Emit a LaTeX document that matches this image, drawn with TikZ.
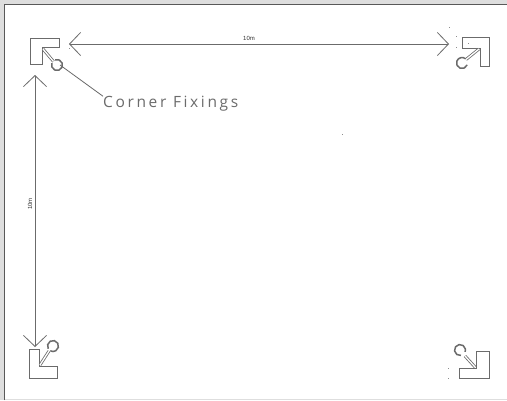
\documentclass[tikz,border=0pt]{standalone}
\usepackage{fontspec}
\setsansfont[LetterSpace=17]{Open Sans}
\newfontfamily\dimfont{Liberation Sans}
\usetikzlibrary{arrows.meta}
\definecolor{linegray}{gray}{0.42}
\definecolor{framegray}{gray}{0.87}
\tikzset{
  x=1pt,y=-1pt,
  plan/.style={draw=linegray,line width=1pt},
  wall/.style={plan,fill=white,line join=miter},
  hookbar/.style={draw=linegray,double=white,double distance=1.3pt,line width=0.8pt},
  ringline/.style={draw=linegray,line width=1.5pt},
  dim/.style={draw=linegray,line width=0.8pt,{Straight Barb[length=11pt,width=23pt,line width=0.8pt]}-{Straight Barb[length=11pt,width=23pt,line width=0.8pt]}},
  leader/.style={draw=linegray,line width=0.8pt},
  tinylabel/.style={font=\fontsize{6}{7}\selectfont\dimfont,text=black!80,inner sep=0pt},
  biglabel/.style={font=\fontsize{15.5}{18}\selectfont\sffamily,text=black!58,inner sep=0pt,anchor=west},
  speck/.style={fill=black!45,draw=none}
}
\newcommand{\speckat}[2]{\fill[speck] (#1-0.5,#2-0.5) rectangle (#1+0.5,#2+0.5);}
\begin{document}
\begin{tikzpicture}
\useasboundingbox (0,0) rectangle (507,400);
\fill[framegray] (0,0) rectangle (507,400);
\fill[white] (5,5) rectangle (507,398.5);
\draw[black!65,line width=1pt] (4.5,400) -- (4.5,4.5) -- (507,4.5);

% corner brackets
\draw[wall] (30,38) -- (59,38) -- (59,47.5) -- (42,47.5) -- (42,64.5) -- (30,64.5) -- cycle;
\draw[wall] (462,37) -- (489,37) -- (489,66) -- (480,66) -- (480,48) -- (462,48) -- cycle;
\draw[wall] (29,349) -- (39,349) -- (39,366) -- (57,366) -- (57,378) -- (29,378) -- cycle;
\draw[wall] (489,351) -- (476,351) -- (476,368) -- (459,368) -- (459,378) -- (489,378) -- cycle;

% hooks
\coordinate (hookA) at (43,49);
\coordinate (ringA) at (57,65);
\draw[hookbar] (hookA) -- (53.5,61.5);
\draw[ringline] ([shift={(250:5.5)}]ringA) arc[start angle=250,end angle=560,radius=5.5];
\coordinate (hookB) at (479,49);
\coordinate (ringB) at (462,63);
\draw[hookbar] (hookB) -- (466,59.5);
\draw[ringline] ([shift={(20:5.5)}]ringB) arc[start angle=20,end angle=310,radius=5.5];
\coordinate (hookC) at (40,365);
\coordinate (ringC) at (53,346);
\draw[hookbar] (hookC) -- (49,351);
\draw[ringline] ([shift={(150:5.5)}]ringC) arc[start angle=150,end angle=480,radius=5.5];
\coordinate (hookD) at (475,367);
\coordinate (ringD) at (460,350);
\draw[hookbar] (hookD) -- (465,356);
\draw[ringline] ([shift={(80:5.5)}]ringD) arc[start angle=80,end angle=380,radius=5.5];

% dimensions
\coordinate (dimL) at (69,44);
\coordinate (dimR) at (449,44);
\coordinate (dimT) at (35,75);
\coordinate (dimB) at (35,347);
\draw[dim] (dimL) -- (dimR);
\draw[dim] (dimT) -- (dimB);
\node[tinylabel] (labelH) at (249,38) {10m};
\node[tinylabel,rotate=90] (labelV) at (30,204) {10m};

% leader and label
\node[biglabel] (fixings) at (103,104) {Corner Fixings};
\coordinate (leaderStart) at (60,65);
\draw[leader] (leaderStart) -- (fixings.north west);

% stray specks
\speckat{342}{134}
\speckat{449}{27}
\speckat{456}{36}
\speckat{456}{47}
\speckat{468}{43}
\speckat{69}{43}
\speckat{69}{48}
\speckat{448}{368}
\speckat{448}{378}
\end{tikzpicture}
\end{document}
